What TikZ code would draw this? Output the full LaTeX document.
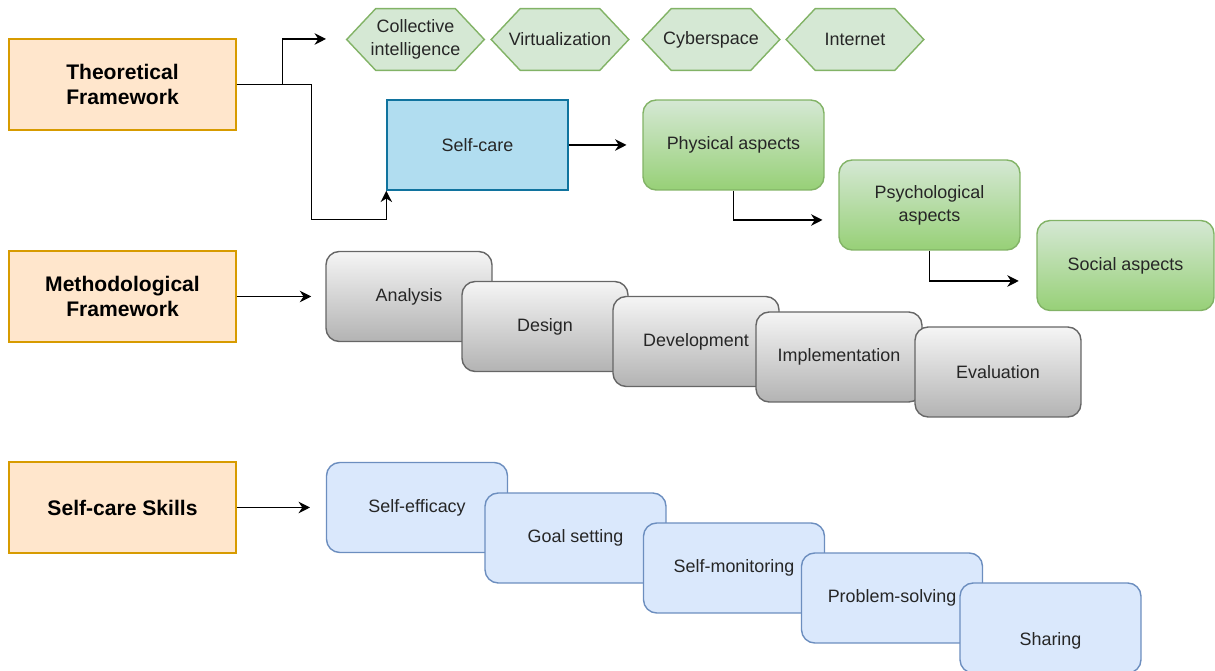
\documentclass[tikz,border=0pt]{standalone}
\usepackage{fontspec}
\setmainfont{Liberation Sans}
\usepackage{xcolor}
\usetikzlibrary{arrows.meta, positioning, backgrounds, calc}
\definecolor{frameorange}{HTML}{FFE6CC}
\definecolor{frameline}{HTML}{D79B00}
\definecolor{hexgreen}{HTML}{D5E8D4}
\definecolor{hexline}{HTML}{82B366}
\definecolor{aspectlow}{HTML}{97D077}
\definecolor{careblue}{HTML}{B1DDF0}
\definecolor{careline}{HTML}{10739E}
\definecolor{stagetop}{HTML}{F5F5F5}
\definecolor{stagelow}{HTML}{B3B3B3}
\definecolor{stageline}{HTML}{666666}
\definecolor{skillblue}{HTML}{DAE8FC}
\definecolor{skillline}{HTML}{6C8EBF}

\begin{document}
\begin{tikzpicture}[
  x=0.02cm, y=-0.02cm,
  every node/.style={font=\fontsize{10.2}{13}\selectfont, text=black!85},
  frame/.style={draw=frameline, fill=frameorange, line width=0.8pt,
                minimum width=4.54cm, minimum height=1.82cm, align=center,
                font=\fontsize{12}{14.7}\selectfont\bfseries, text=black},
  hexa/.style={minimum width=2.74cm, minimum height=1.22cm, align=center, inner sep=0pt},
  hexedge/.style={draw=hexline, fill=hexgreen, line width=0.8pt},
  card/.style={rounded corners=7.5pt, line width=0.8pt, align=center,
               minimum width=3.62cm, minimum height=1.8cm},
  aspect/.style={card, draw=hexline, top color=hexgreen, bottom color=aspectlow},
  stage/.style={card, draw=stageline, top color=stagetop, bottom color=stagelow,
                minimum width=3.32cm},
  skill/.style={card, draw=skillline, fill=skillblue},
  arr/.style={-{Stealth[length=6.5pt, width=6.5pt]}, line width=0.85pt, draw=black}
]
\useasboundingbox (0,0) rectangle (1215,671);

%% left column
\node[frame] (tf) at (122.5, 84.5)  {Theoretical\\Framework};
\node[frame] (mf) at (122.5, 296.5) {Methodological\\Framework};
\node[frame] (sk) at (122.5, 507.5) {Self-care Skills};

%% concepts (hexagons)
\node[hexa] (ci)   at (415.5, 39.5) {Collective\\intelligence};
\node[hexa] (virt) at (560,   39.5) {Virtualization};
\node[hexa] (cyb)  at (711,   39.5) {Cyberspace};
\node[hexa] (net)  at (855,   39.5) {Internet};
\begin{scope}[on background layer]
  \foreach \h in {ci,virt,cyb,net}
    \draw[hexedge] (\h.west) -- ($(\h.north west)+(29,0)$)
      -- ($(\h.north east)+(-29,0)$) -- (\h.east)
      -- ($(\h.south east)+(-29,0)$) -- ($(\h.south west)+(29,0)$) -- cycle;
\end{scope}
\coordinate (hexin) at (326, 39);

%% self-care and its aspects
\node[draw=careline, fill=careblue, line width=0.8pt, minimum width=3.62cm,
      minimum height=1.8cm] (sc) at (477.5, 145) {Self-care};
\node[aspect] (phys) at (733.5, 145)   {Physical aspects};
\node[aspect] (psy)  at (929.5, 205)   {Psychological\\aspects};
\node[aspect, minimum width=3.54cm] (soc) at (1125.5, 265.5) {Social aspects};

\draw[arr] (tf.east) -- ++(46,0) |- (hexin);
\draw[arr] (tf.east) -- ++(75,0) -- ++(0,135) -| (sc.south west);
\draw[arr, shorten >=9pt] (sc.east) -- (phys.west);
\draw[arr, shorten >=9pt] (phys.south) |- ($(psy.west)+(0,15)$);
\draw[arr, shorten >=10pt] (psy.south) |- ($(soc.west)+(0,15.5)$);

%% methodological stages
\node[stage] (ana) at (409, 296.5) {Analysis};
\node[stage] (des) at (545, 326.5) {Design};
\node[stage] (dev) at (696, 341.5) {Development};
\node[stage] (imp) at (839, 357)   {Implementation};
\node[stage] (eva) at (998, 372)   {Evaluation};
\draw[arr, shorten >=8pt] (mf.east) -- (mf.east -| ana.west);

%% self-care skills
\node[skill] (seff) at (417,   507.5) {Self-efficacy};
\node[skill] (goal) at (575.5, 538)   {Goal setting};
\node[skill] (smon) at (734,   568)   {Self-monitoring};
\node[skill] (prob) at (892,   598)   {Problem-solving};
\node[skill] (shar) at (1050.5, 628)  {\strut\\Sharing};
\draw[arr, shorten >=9pt] (sk.east) -- (sk.east -| seff.west);

\end{tikzpicture}
\end{document}
